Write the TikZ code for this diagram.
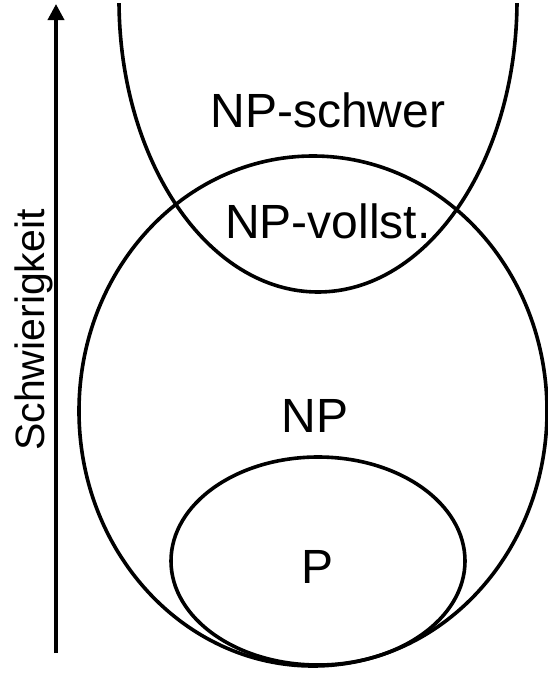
\documentclass[tikz,border=0pt]{standalone}
\usepackage{fontspec}
\setmainfont{Liberation Sans}
\usetikzlibrary{arrows.meta}
\begin{document}
\begin{tikzpicture}[x=1pt,y=-1pt,
  setline/.style={line width=3.6pt},
  biglabel/.style={anchor=base,inner sep=0pt,font=\fontsize{48}{48}\selectfont},
  axislabel/.style={anchor=base,inner sep=0pt,rotate=90,font=\fontsize{41}{41}\selectfont}]
\useasboundingbox (0,0) rectangle (548,673);
% NP-hard (open at top)
\begin{scope}
  \clip (0,3) rectangle (548,673);
  \draw[setline] (318,0) ellipse [x radius=199pt, y radius=292pt];
\end{scope}
% NP
\draw[setline] (313,411) ellipse [x radius=234pt, y radius=255pt];
% P
\draw[setline] (318,561) ellipse [x radius=147pt, y radius=104pt];
% axis
\coordinate (abot) at (56,653);
\coordinate (atop) at (56,4);
\draw[line width=3.6pt,-{Triangle[width=16pt,length=16pt]}] (abot) -- (atop);
\node[axislabel] (lab) at (45,330) {Schwierigkeit};
% labels
\node[biglabel] (hard) at (328,127) {NP-schwer};
\node[biglabel] (comp) at (328,238) {NP-vollst.};
\node[biglabel] (np) at (315,432) {NP};
\node[biglabel] (p) at (318,583) {P};
\end{tikzpicture}
\end{document}
